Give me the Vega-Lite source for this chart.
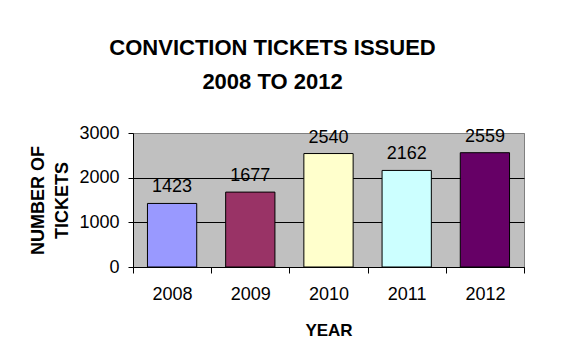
{
  "$schema": "https://vega.github.io/schema/vega-lite/v6.json",
  "width": 391,
  "height": 134,
  "autosize": "none",
  "padding": {"left": 133, "top": 133, "right": 40, "bottom": 86},
  "background": "white",
  "title": {
    "text": ["CONVICTION TICKETS ISSUED", "2008 TO 2012"],
    "font": "Liberation Sans",
    "fontSize": 22,
    "fontWeight": "bold",
    "color": "black",
    "anchor": "middle",
    "dx": -56,
    "baseline": "alphabetic",
    "lineHeight": 34,
    "offset": 13
  },
  "data": {
    "values": [
      {"year": "2008", "tickets": 1423},
      {"year": "2009", "tickets": 1677},
      {"year": "2010", "tickets": 2540},
      {"year": "2011", "tickets": 2162},
      {"year": "2012", "tickets": 2559}
    ]
  },
  "encoding": {
    "x": {
      "field": "year",
      "type": "ordinal",
      "scale": {"paddingInner": 0, "paddingOuter": 0},
      "axis": {
        "title": "YEAR",
        "titleFont": "Liberation Sans",
        "titleFontSize": 17,
        "titleFontWeight": "bold",
        "titleColor": "black",
        "titlePadding": 19,
        "labelAngle": 0,
        "labelFont": "Liberation Sans",
        "labelFontSize": 18,
        "labelColor": "black",
        "labelPadding": 12,
        "tickBand": "extent",
        "tickColor": "black",
        "tickSize": 6,
        "domainColor": "black",
        "grid": false
      }
    },
    "y": {
      "field": "tickets",
      "type": "quantitative",
      "scale": {"domain": [0, 3000], "nice": false},
      "axis": {
        "values": [0, 1000, 2000, 3000],
        "format": "d",
        "title": ["NUMBER OF", "TICKETS"],
        "titleFont": "Liberation Sans",
        "titleFontSize": 18,
        "titleFontWeight": "bold",
        "titleColor": "black",
        "titleAngle": -90,
        "titleAlign": "center",
        "titleBaseline": "middle",
        "titleLineHeight": 24,
        "titleX": -95,
        "titleY": 67,
        "labelFont": "Liberation Sans",
        "labelFontSize": 18,
        "labelColor": "black",
        "labelPadding": 9,
        "tickColor": "black",
        "tickSize": 5,
        "domainColor": "black",
        "grid": true,
        "gridColor": {"condition": {"test": "datum.value >= 3000", "value": "#808080"}, "value": "black"},
        "gridOpacity": 1
      }
    }
  },
  "layer": [
    {
      "mark": {"type": "bar", "width": {"band": 0.63}, "stroke": "black", "strokeWidth": 1},
      "encoding": {
        "color": {
          "field": "year",
          "type": "nominal",
          "scale": {"range": ["#9999FF", "#993366", "#FFFFCC", "#CCFFFF", "#660066"]},
          "legend": null
        }
      }
    },
    {
      "mark": {"type": "text", "baseline": "alphabetic", "dy": -11, "font": "Liberation Sans", "fontSize": 18, "color": "black"},
      "encoding": {"text": {"field": "tickets", "type": "quantitative"}}
    }
  ],
  "config": {
    "view": {"fill": "#C0C0C0", "stroke": "#808080", "strokeWidth": 1}
  }
}
